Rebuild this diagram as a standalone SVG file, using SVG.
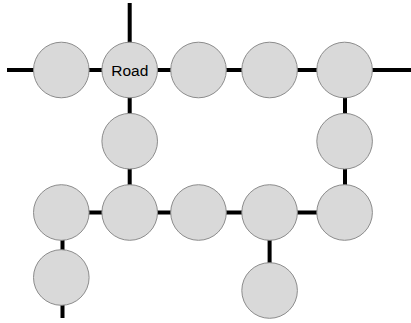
<svg xmlns="http://www.w3.org/2000/svg" width="411" height="323" viewBox="0 0 411 323">
<style>
.n{fill:#d9d9d9;stroke:#8c8c8c;stroke-width:1}
.e{stroke:#000;stroke-width:4;fill:none}
.t{font-family:"Liberation Sans",Arial,sans-serif;font-size:15.5px;fill:#000;text-anchor:middle}
</style>
<rect width="411" height="323" fill="#fff"/>
<g id="connectors">
<line class="e" x1="7" y1="70" x2="345" y2="70"/>
<line class="e" x1="345" y1="70" x2="411" y2="70"/>
<line class="e" x1="129.7" y1="3" x2="129.7" y2="212.5"/>
<line class="e" x1="345" y1="70" x2="345" y2="212.5"/>
<line class="e" x1="61.3" y1="212.5" x2="345" y2="212.5"/>
<line class="e" x1="62.5" y1="212.5" x2="62.5" y2="318"/>
<line class="e" x1="269.6" y1="212.5" x2="269.6" y2="290.5"/>
</g>
<g id="n1"><circle class="n" cx="61.3" cy="70" r="27.8"/></g>
<g id="road"><circle class="n" cx="129.7" cy="70" r="27.8"/><text class="t" x="129.8" y="75.8">Road</text></g>
<g id="n3"><circle class="n" cx="198.5" cy="70" r="27.8"/></g>
<g id="n4"><circle class="n" cx="269.6" cy="70" r="27.8"/></g>
<g id="n5"><circle class="n" cx="344.6" cy="70" r="27.8"/></g>
<g id="n6"><circle class="n" cx="129.7" cy="141.2" r="27.8"/></g>
<g id="n7"><circle class="n" cx="344.6" cy="141.2" r="27.8"/></g>
<g id="n8"><circle class="n" cx="61.3" cy="212.5" r="27.8"/></g>
<g id="n9"><circle class="n" cx="129.7" cy="212.5" r="27.8"/></g>
<g id="n10"><circle class="n" cx="198.5" cy="212.5" r="27.8"/></g>
<g id="n11"><circle class="n" cx="269.6" cy="212.5" r="27.8"/></g>
<g id="n12"><circle class="n" cx="344.6" cy="212.5" r="27.8"/></g>
<g id="n13"><circle class="n" cx="61.3" cy="277.5" r="27.8"/></g>
<g id="n14"><circle class="n" cx="269.6" cy="290.5" r="27.8"/></g>
</svg>
